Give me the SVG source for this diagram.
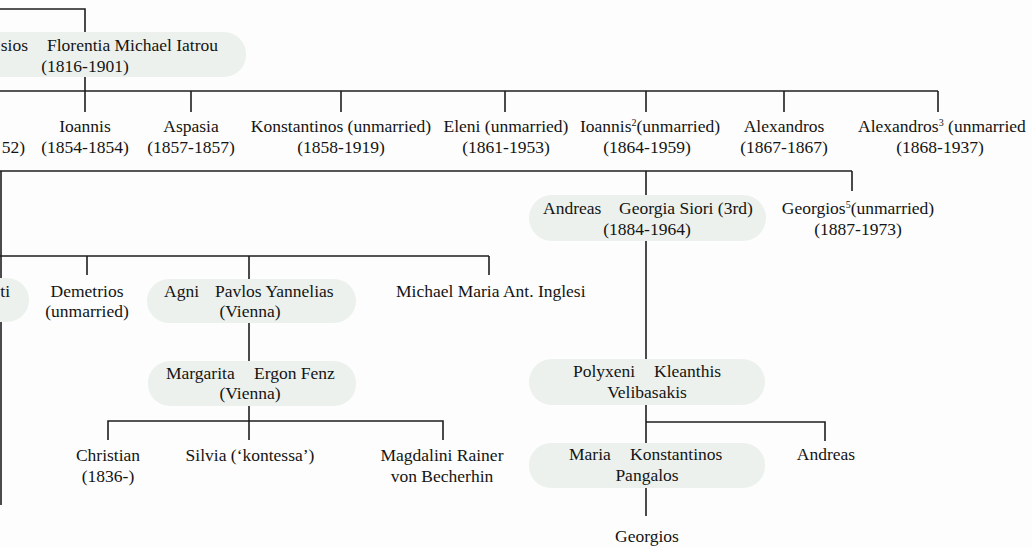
<svg xmlns="http://www.w3.org/2000/svg" width="1032" height="548" viewBox="0 0 1032 548">
<style>
.t{font-family:"Liberation Serif","Times New Roman",serif;font-size:17.5px;fill:#141414}
.m{text-anchor:middle}
.e{text-anchor:end}
.pill{fill:#ecf1ed}
.c{stroke:#1e1e1e;stroke-width:1.6;fill:none}
.sup{font-size:10px}
</style>
<rect width="1032" height="548" fill="#fcfdfc"/>
<g id="connectors" class="c">
<path d="M0,9 H85 V32"/>
<path d="M85,77 V112"/>
<path d="M0,91 H938"/>
<path d="M191,91 V112 M341,91 V112 M505,91 V112 M646,91 V112 M784,91 V112 M938,91 V112"/>
<path d="M0,171 H852"/>
<path d="M646,171 V195 M852,171 V191"/>
<path d="M1,171 V505"/>
<path d="M646,241 V359"/>
<path d="M0,256 H489 M87,256 V275 M489,256 V275 M249,256 V279"/>
<path d="M249,323 V361"/>
<path d="M249,406 V440 M108,440 V421 H443 V440"/>
<path d="M646,405 V443 M646,422 H825 V441"/>
<path d="M646,488 V516"/>
</g>
<g id="n-florentia">
<rect class="pill" x="-40" y="32" width="286" height="45" rx="22"/>
<text class="t e" x="28" y="51">sios</text>
<text class="t" x="47" y="51">Florentia Michael Iatrou</text>
<text class="t m" x="85" y="72">(1816-1901)</text>
</g>
<g id="n-prev">
<text class="t e" x="25" y="153">52)</text>
</g>
<g id="n-ioannis">
<text class="t m" x="85" y="132">Ioannis</text>
<text class="t m" x="85" y="153">(1854-1854)</text>
</g>
<g id="n-aspasia">
<text class="t m" x="191" y="132">Aspasia</text>
<text class="t m" x="191" y="153">(1857-1857)</text>
</g>
<g id="n-konstantinos">
<text class="t m" x="341" y="132">Konstantinos (unmarried)</text>
<text class="t m" x="341" y="153">(1858-1919)</text>
</g>
<g id="n-eleni">
<text class="t m" x="506" y="132">Eleni (unmarried)</text>
<text class="t m" x="506" y="153">(1861-1953)</text>
</g>
<g id="n-ioannis2">
<text class="t m" x="650" y="132">Ioannis<tspan class="sup" dy="-6">2</tspan><tspan dy="6">(unmarried)</tspan></text>
<text class="t m" x="647" y="153">(1864-1959)</text>
</g>
<g id="n-alexandros">
<text class="t m" x="784" y="132">Alexandros</text>
<text class="t m" x="784" y="153">(1867-1867)</text>
</g>
<g id="n-alexandros3">
<text class="t" x="858" y="132">Alexandros<tspan class="sup" dy="-6">3</tspan><tspan dy="6"> (unmarried</tspan></text>
<text class="t m" x="940" y="153">(1868-1937)</text>
</g>
<g id="n-andreas">
<rect class="pill" x="529" y="195" width="237" height="46" rx="23"/>
<text class="t" x="543" y="214">Andreas</text>
<text class="t" x="619" y="214">Georgia Siori (3rd)</text>
<text class="t m" x="647" y="235">(1884-1964)</text>
</g>
<g id="n-georgios5">
<text class="t m" x="858" y="214">Georgios<tspan class="sup" dy="-6">5</tspan><tspan dy="6">(unmarried)</tspan></text>
<text class="t m" x="858" y="235">(1887-1973)</text>
</g>
<g id="n-ti">
<rect class="pill" x="-40" y="278" width="69" height="44" rx="22"/>
<text class="t e" x="10" y="297">ti</text>
</g>
<g id="n-demetrios">
<text class="t m" x="87" y="297">Demetrios</text>
<text class="t m" x="87" y="317">(unmarried)</text>
</g>
<g id="n-agni">
<rect class="pill" x="147" y="279" width="209" height="44" rx="22"/>
<text class="t" x="164" y="297">Agni</text>
<text class="t" x="215" y="297">Pavlos Yannelias</text>
<text class="t m" x="250" y="317">(Vienna)</text>
</g>
<g id="n-michael">
<text class="t" x="396" y="297">Michael Maria Ant. Inglesi</text>
</g>
<g id="n-margarita">
<rect class="pill" x="148" y="361" width="208" height="45" rx="22"/>
<text class="t" x="166" y="379">Margarita</text>
<text class="t" x="254" y="379">Ergon Fenz</text>
<text class="t m" x="250" y="399">(Vienna)</text>
</g>
<g id="n-christian">
<text class="t m" x="108" y="461">Christian</text>
<text class="t m" x="108" y="482">(1836-)</text>
</g>
<g id="n-silvia">
<text class="t m" x="250" y="461">Silvia (‘kontessa’)</text>
</g>
<g id="n-magdalini">
<text class="t m" x="442" y="461">Magdalini Rainer</text>
<text class="t m" x="442" y="482">von Becherhin</text>
</g>
<g id="n-polyxeni">
<rect class="pill" x="529" y="359" width="236" height="46" rx="23"/>
<text class="t" x="573" y="377">Polyxeni</text>
<text class="t" x="654" y="377">Kleanthis</text>
<text class="t m" x="647" y="398">Velibasakis</text>
</g>
<g id="n-maria">
<rect class="pill" x="529" y="443" width="236" height="45" rx="22"/>
<text class="t" x="569" y="460">Maria</text>
<text class="t" x="630" y="460">Konstantinos</text>
<text class="t m" x="647" y="481">Pangalos</text>
</g>
<g id="n-andreas2">
<text class="t m" x="826" y="460">Andreas</text>
</g>
<g id="n-georgios">
<text class="t m" x="647" y="542">Georgios</text>
</g>
</svg>
